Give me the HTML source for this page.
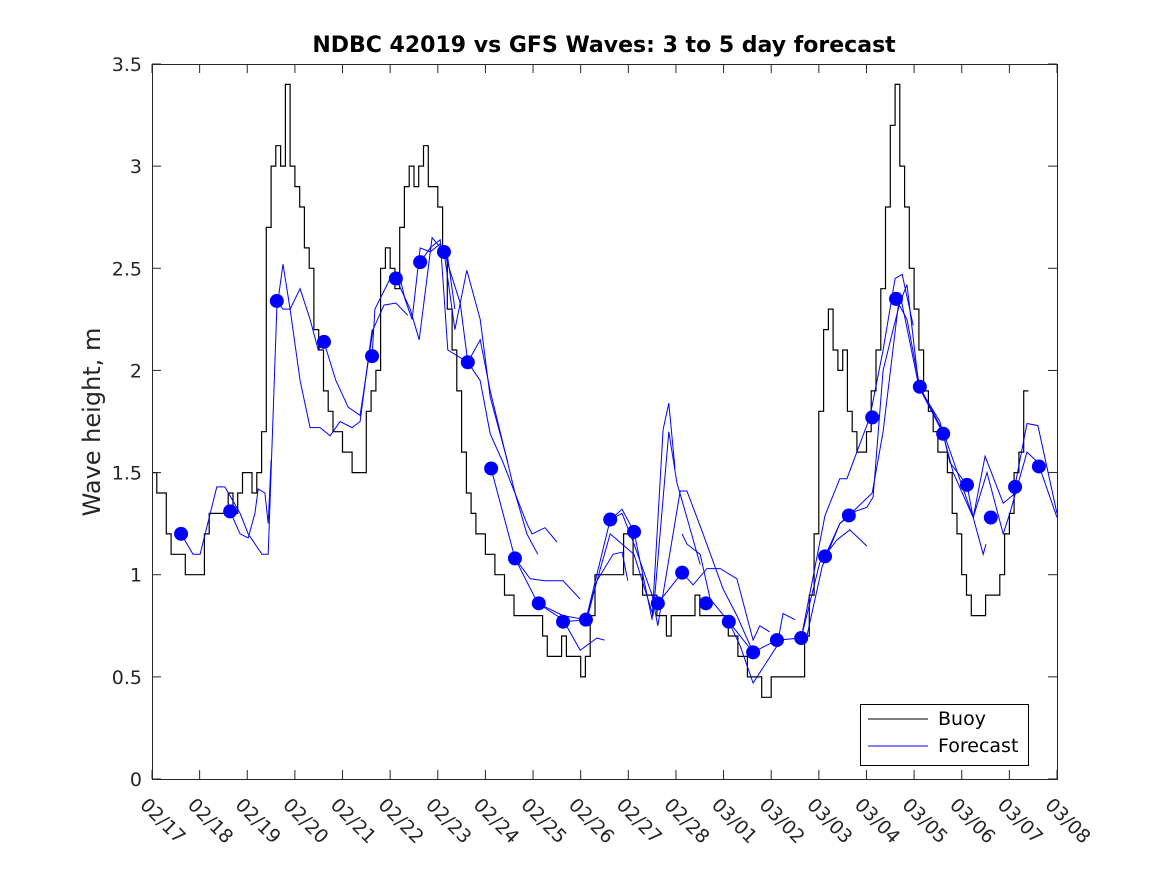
<!DOCTYPE html>
<html><head><meta charset="utf-8"><style>
html,body{margin:0;padding:0;background:#fff;}
svg{display:block;font-family:"DejaVu Sans","Liberation Sans",sans-serif;}
</style></head><body>
<svg id="chart" width="1167" height="875" viewBox="0 0 1167 875">
<rect x="0" y="0" width="1167" height="875" fill="#fff"/>
<text x="604" y="52" text-anchor="middle" font-size="22" font-weight="bold" fill="#000">NDBC 42019 vs GFS Waves: 3 to 5 day forecast</text>
<text transform="translate(100,422) rotate(-90)" text-anchor="middle" font-size="24" fill="#262626">Wave height, m</text>
<g id="buoyG"></g>
<g id="fcG"></g>
<g id="dotG"></g>
<g id="axes"></g>
<g>
<rect x="860.5" y="704.5" width="168" height="61" fill="#fff" stroke="#000" stroke-width="1"/>
<line x1="868" y1="719" x2="928" y2="719" stroke="#000" stroke-width="1"/>
<text x="938" y="725" font-size="19" fill="#000">Buoy</text>
<line x1="868" y1="746" x2="928" y2="746" stroke="#0000ff" stroke-width="1"/>
<text x="938" y="752" font-size="19" fill="#000">Forecast</text>
</g>
</svg>
<script>
const xTickLabels = ["02/17","02/18","02/19","02/20","02/21","02/22","02/23","02/24","02/25","02/26","02/27","02/28","03/01","03/02","03/03","03/04","03/05","03/06","03/07","03/08"];
const yTicks = [0,0.5,1,1.5,2,2.5,3,3.5];
const yTickLabels = ["0","0.5","1","1.5","2","2.5","3","3.5"];
// buoy: sampled every 0.1 day from 02/17
const buoyStep = 0.1;
const buoyValues = [1.5,1.4,1.4,1.2,1.1,1.1,1.1,1.0,1.0,1.0,1.0,1.2,1.3,1.3,1.3,1.3,1.4,1.3,1.4,1.5,1.5,1.4,1.5,1.7,2.7,3.0,3.1,3.0,3.4,3.0,2.9,2.8,2.6,2.5,2.2,2.1,1.9,1.8,1.7,1.7,1.6,1.6,1.5,1.5,1.5,1.8,1.9,2.0,2.5,2.6,2.5,2.4,2.7,2.9,3.0,2.9,3.0,3.1,2.9,2.9,2.8,2.6,2.3,2.1,1.9,1.6,1.4,1.3,1.2,1.2,1.1,1.1,1.0,1.0,0.9,0.9,0.8,0.8,0.8,0.8,0.8,0.8,0.7,0.6,0.6,0.6,0.7,0.6,0.6,0.6,0.5,0.6,0.8,1.0,1.0,1.0,1.0,1.0,1.0,1.2,1.2,1.0,1.0,0.9,0.9,0.9,0.8,0.8,0.7,0.8,0.8,0.8,0.8,0.8,0.9,0.8,0.8,0.8,0.8,0.8,0.8,0.7,0.7,0.6,0.6,0.5,0.5,0.5,0.4,0.4,0.5,0.5,0.5,0.5,0.5,0.5,0.5,0.7,0.9,1.2,1.8,2.2,2.3,2.1,2.0,2.1,1.8,1.7,1.6,1.6,1.7,1.9,2.1,2.4,2.8,3.2,3.4,3.0,2.8,2.5,2.3,2.1,1.9,1.8,1.7,1.6,1.6,1.5,1.3,1.2,1.0,0.9,0.8,0.8,0.8,0.9,0.9,0.9,1.0,1.2,1.3,1.5,1.6,1.9];
const dotDays = [0.61,1.64,2.62,3.61,4.62,5.12,5.63,6.13,6.63,7.12,7.62,8.12,8.63,9.11,9.62,10.12,10.62,11.13,11.63,12.11,12.62,13.12,13.63,14.13,14.63,15.12,15.62,16.12,16.61,17.11,17.61,18.12,18.62];
const dotValues = [1.2,1.31,2.34,2.14,2.07,2.45,2.53,2.58,2.04,1.52,1.08,0.86,0.77,0.78,1.27,1.21,0.86,1.01,0.86,0.77,0.62,0.68,0.69,1.09,1.29,1.77,2.35,1.92,1.69,1.44,1.28,1.43,1.53];
const fcDays = [
[0.61,0.86,1.01,1.36,1.53,1.85,2.02,2.31,2.44,2.62,2.75,2.90,3.11,3.32,3.53,3.74,3.95,4.20,4.37,4.62],
[1.64,1.85,2.02,2.16,2.23,2.37,2.44,2.50],
[2.62,2.75,2.90,3.11,3.32,3.49,3.61],
[3.61,3.86,4.12,4.37,4.64,4.87,5.12,5.37],
[4.62,4.68,5.00,5.21,5.31,5.46,5.63,5.84,6.05,6.21,6.36],
[5.63,5.84,6.05,6.21,6.63,6.89,7.10,7.37,7.87,7.98,8.25,8.50],
[5.12,5.42,5.61,5.88,6.13,6.36,6.61,6.89,7.10,7.47],
[6.13,6.47,6.63,6.89,7.10,7.62,7.87,8.10],
[7.12,7.37,7.62,7.94,8.25,8.63,8.99],
[7.62,8.10,8.63,8.99,9.34,9.50],
[8.10,8.63,9.11,9.62,9.87,10.12,10.50,10.73,10.85,10.98],
[8.63,9.13,9.34,9.68,9.87,9.99],
[9.11,9.62,10.12,10.52,10.85,11.02,11.23,11.51],
[9.62,9.87,10.12,10.50,10.62,11.09,11.23,11.57,11.99,12.28,12.62],
[10.62,11.13,11.36,11.65,11.93,12.28,12.62,12.76,12.97],
[11.13,11.23,11.51,11.72,12.11,12.35,12.62,13.12,13.25,13.50],
[12.11,12.62,13.12,13.63,14.02,14.38,14.65,15.01],
[13.63,14.13,14.44,14.59,15.07,15.35,15.60,15.75,15.98],
[13.75,14.07,14.44,14.76,15.01,15.14,15.35,15.56,15.70,15.85,16.10,16.61,16.75,17.11,17.24,17.45,17.51],
[14.13,14.44,14.63,15.12,15.35,15.70,16.10,16.54,16.82,17.24,17.49,17.87,18.08,18.37,18.60,19.0],
[15.62,15.85,16.12,16.61,17.24,17.53,17.87,18.01,18.37,18.60,19.0]
];
const fcValues = [
[1.2,1.1,1.1,1.43,1.43,1.3,1.2,1.1,1.1,2.3,2.52,2.3,1.95,1.72,1.72,1.68,1.75,1.72,1.75,2.2],
[1.31,1.2,1.18,1.3,1.42,1.4,1.25,1.56],
[2.34,2.3,2.3,2.4,2.25,2.1,2.14],
[2.14,1.95,1.82,1.78,2.2,2.32,2.33,2.27],
[2.07,2.3,2.45,2.45,2.35,2.25,2.6,2.58,2.62,2.55,2.3],
[2.53,2.6,2.64,2.1,2.04,1.95,1.69,1.55,1.25,1.2,1.23,1.16],
[2.45,2.3,2.15,2.65,2.58,2.2,2.49,2.25,1.87,1.55],
[2.58,2.33,2.04,2.15,1.9,1.4,1.2,1.1],
[1.52,1.3,1.08,0.98,0.97,0.97,0.88],
[1.08,0.86,0.78,0.63,0.69,0.68],
[0.86,0.8,0.78,1.27,1.32,1.21,0.78,1.71,1.84,1.52],
[0.77,0.78,0.97,1.1,1.11,0.97],
[0.78,1.2,1.1,0.8,1.7,1.45,1.28,1.05],
[1.27,1.3,1.15,0.9,0.75,1.41,1.41,1.2,0.93,0.8,0.62],
[0.86,1.01,0.95,1.03,1.03,0.98,0.68,0.75,0.72],
[1.2,1.15,1.1,0.88,0.77,0.65,0.47,0.65,0.81,0.78],
[0.77,0.62,0.68,0.69,1.06,1.17,1.22,1.14],
[0.69,1.29,1.47,1.47,1.77,2.1,2.45,2.47,2.22],
[0.7,1.04,1.25,1.31,1.33,1.38,2.0,2.2,2.33,2.42,1.92,1.69,1.55,1.44,1.28,1.1,1.15],
[1.09,1.25,1.29,1.4,1.7,2.38,1.92,1.75,1.5,1.28,1.58,1.35,1.39,1.74,1.73,1.3],
[2.35,2.25,1.92,1.7,1.28,1.5,1.2,1.3,1.6,1.55,1.28]
];

const NS = "http://www.w3.org/2000/svg";
const L = 152, R = 1057, T = 64, B = 779, DAYS = 19, YMAX = 3.5;
const xs = d => L + (R - L) * d / DAYS;
const ys = v => B - (B - T) * v / YMAX;
function mk(tag, attrs, parent) {
  const e = document.createElementNS(NS, tag);
  for (const k in attrs) e.setAttribute(k, attrs[k]);
  parent.appendChild(e);
  return e;
}
const axes = document.getElementById('axes');
const frame = mk('rect', {x: L + 0.5, y: T + 0.5, width: R - L, height: B - T, fill: 'none', stroke: '#262626', 'stroke-width': 1}, axes);


xTickLabels.forEach((lab, i) => {
  const x = xs(i);
  mk('line', {x1: x, y1: B, x2: x, y2: B - 9, stroke: '#262626'}, axes);
  mk('line', {x1: x, y1: T, x2: x, y2: T + 9, stroke: '#262626'}, axes);
  const t = mk('text', {x: x - 13, y: B + 27, 'font-size': 19, fill: '#262626', transform: `rotate(45 ${x - 13} ${B + 27})`}, axes);
  t.textContent = lab;
  
  
});
yTicks.forEach((v, i) => {
  const y = ys(v);
  mk('line', {x1: L, y1: y, x2: L + 9, y2: y, stroke: '#262626'}, axes);
  mk('line', {x1: R, y1: y, x2: R - 9, y2: y, stroke: '#262626'}, axes);
  const t = mk('text', {x: L - 10, y: y + 7, 'font-size': 19, fill: '#262626', 'text-anchor': 'end'}, axes);
  t.textContent = yTickLabels[i];
  
  
});
let d = '';
buoyValues.forEach((v, i) => {
  const x0 = xs(i * buoyStep), x1 = xs((i + 1) * buoyStep);
  d += (i === 0 ? 'M' : 'L') + x0.toFixed(1) + ' ' + ys(v).toFixed(1) + ' L' + x1.toFixed(1) + ' ' + ys(v).toFixed(1) + ' ';
});
const bp = mk('path', {d: d, fill: 'none', stroke: '#000', 'stroke-width': 1.2}, document.getElementById('buoyG'));


const fg = document.getElementById('fcG');
fcDays.forEach((tarr, k) => {
  const pts = tarr.map((t, j) => xs(t).toFixed(1) + ',' + ys(fcValues[k][j]).toFixed(1)).join(' ');
  const pl = mk('polyline', {points: pts, fill: 'none', stroke: '#0000ff', 'stroke-width': 1}, fg);
  
  
});
const dg = document.getElementById('dotG');
dotDays.forEach((t, i) => {
  const c = mk('circle', {cx: xs(t), cy: ys(dotValues[i]), r: 7, fill: '#0000ff'}, dg);
  
  
});
</script>
</body></html>
